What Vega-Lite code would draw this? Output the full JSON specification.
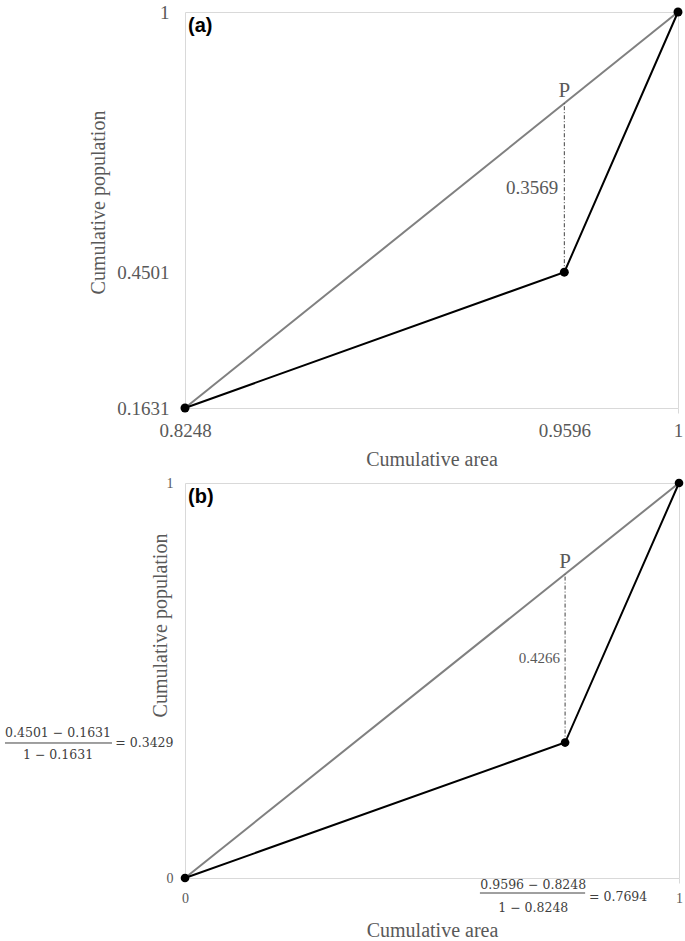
{
  "$schema": "https://vega.github.io/schema/vega-lite/v6.json",
  "background": "white",
  "padding": {"left": 3, "top": 2, "right": 4, "bottom": 2},
  "bounds": "flush",
  "spacing": 75,
  "config": {
    "view": {"stroke": "#d9d9d9", "strokeWidth": 1},
    "axis": {
      "domain": false,
      "grid": false,
      "labelColor": "#595959",
      "titleColor": "#595959",
      "labelFont": "Liberation Serif",
      "titleFont": "Liberation Serif",
      "titleFontWeight": "normal",
      "labelFlush": false,
      "labelOverlap": false,
      "labelBound": false
    }
  },
  "datasets": {
    "curveA": [{"x": 0.8248, "y": 0.1631}, {"x": 0.9596, "y": 0.4501}, {"x": 1, "y": 1}],
    "diagA": [{"x": 0.8248, "y": 0.1631}, {"x": 1, "y": 1}],
    "dropA": [{"x": 0.9596, "y": 0.4501}, {"x": 0.9596, "y": 0.807}],
    "pA": [{"x": 0.9596, "y": 0.807, "text": "P"}],
    "gapA": [{"x": 0.9596, "y": 0.62855, "text": "0.3569"}],
    "tagA": [{"x": 0.8248, "y": 1, "text": "(a)"}],
    "curveB": [{"x": 0, "y": 0}, {"x": 0.7694, "y": 0.3429}, {"x": 1, "y": 1}],
    "diagB": [{"x": 0, "y": 0}, {"x": 1, "y": 1}],
    "dropB": [{"x": 0.7694, "y": 0.3429}, {"x": 0.7694, "y": 0.7694}],
    "pB": [{"x": 0.7694, "y": 0.7694, "text": "P"}],
    "gapB": [{"x": 0.7694, "y": 0.55615, "text": "0.4266"}],
    "tagB": [{"x": 0, "y": 1, "text": "(b)"}],
    "fracB": [
      {"x": -0.257, "y": 0.367, "text": "0.4501 − 0.1631"},
      {"x": -0.257, "y": 0.311, "text": "1 − 0.1631"},
      {"x": 0.705, "y": -0.0177, "text": "0.9596 − 0.8248"},
      {"x": 0.705, "y": -0.076, "text": "1 − 0.8248"}
    ],
    "eqB": [{"x": 0.818, "y": -0.048, "text": "= 0.7694"}],
    "barsB": [
      {"x": -0.3644, "x2": -0.1478, "y": 0.3418},
      {"x": 0.597, "x2": 0.81, "y": -0.038}
    ]
  },
  "vconcat": [
    {
      "width": 493,
      "height": 396,
      "encoding": {
        "x": {
          "field": "x",
          "type": "quantitative",
          "scale": {"domain": [0.8248, 1], "nice": false, "zero": false},
          "title": "Cumulative area",
          "axis": {
            "values": [0.8248, 0.9596, 1],
            "labelExpr": "datum.value == 1 ? '1' : format(datum.value, '.4f')",
            "labelFontSize": 19,
            "labelPadding": 8,
            "titleFontSize": 20,
            "titlePadding": 9,
            "ticks": true,
            "tickSize": 5,
            "tickColor": "#d9d9d9",
            "tickOpacity": {"condition": {"test": "datum.value == 1", "value": 1}, "value": 0}
          }
        },
        "y": {
          "field": "y",
          "type": "quantitative",
          "scale": {"domain": [0.1631, 1], "nice": false, "zero": false},
          "title": "Cumulative population",
          "axis": {
            "values": [0.1631, 0.4501, 1],
            "labelExpr": "datum.value == 1 ? '1' : format(datum.value, '.4f')",
            "labelFontSize": 19,
            "labelPadding": 16,
            "ticks": false,
            "titleFontSize": 20,
            "titleX": -77,
            "titleY": 190
          }
        }
      },
      "layer": [
        {"data": {"name": "diagA"}, "mark": {"type": "line", "color": "#808080", "strokeWidth": 2}},
        {"data": {"name": "curveA"}, "mark": {"type": "line", "color": "#000000", "strokeWidth": 2}},
        {"data": {"name": "dropA"}, "mark": {"type": "line", "color": "#404040", "strokeWidth": 1, "strokeDash": [4, 2, 1, 2]}},
        {"data": {"name": "curveA"}, "mark": {"type": "point", "filled": true, "color": "#000000", "size": 80, "opacity": 1}},
        {"data": {"name": "pA"}, "mark": {"type": "text", "align": "center", "baseline": "bottom", "dy": -2, "font": "Liberation Serif", "fontSize": 21, "color": "#595959"}, "encoding": {"text": {"field": "text"}}},
        {"data": {"name": "gapA"}, "mark": {"type": "text", "align": "right", "baseline": "middle", "dx": -6, "font": "Liberation Serif", "fontSize": 19, "color": "#595959"}, "encoding": {"text": {"field": "text"}}},
        {"data": {"name": "tagA"}, "mark": {"type": "text", "align": "left", "baseline": "top", "dx": 3, "dy": 4, "font": "Liberation Sans", "fontWeight": "bold", "fontSize": 20, "color": "#000000"}, "encoding": {"text": {"field": "text"}}}
      ]
    },
    {
      "width": 494,
      "height": 395,
      "encoding": {
        "x": {
          "field": "x",
          "type": "quantitative",
          "scale": {"domain": [0, 1], "nice": false, "zero": false},
          "title": "Cumulative area",
          "axis": {
            "values": [0, 1],
            "labelExpr": "datum.value == 1 ? '1' : '0'",
            "labelFontSize": 14,
            "labelPadding": 8,
            "titleFontSize": 20,
            "titleY": 42,
            "ticks": true,
            "tickSize": 5,
            "tickColor": "#d9d9d9",
            "tickOpacity": {"condition": {"test": "datum.value == 1", "value": 1}, "value": 0}
          }
        },
        "y": {
          "field": "y",
          "type": "quantitative",
          "scale": {"domain": [0, 1], "nice": false, "zero": false},
          "title": "Cumulative population",
          "axis": {
            "values": [0, 0.3429, 1],
            "labelExpr": "datum.value == 1 ? '1' : (datum.value == 0 ? '0' : '= 0.3429')",
            "labelFont": {"condition": {"test": "datum.value > 0.1 && datum.value < 0.9", "value": "DejaVu Serif"}, "value": "Liberation Serif"},
            "labelFontSize": {"condition": {"test": "datum.value > 0.1 && datum.value < 0.9", "value": 12.5}, "value": 14},
            "labelColor": {"condition": {"test": "datum.value > 0.1 && datum.value < 0.9", "value": "#404040"}, "value": "#595959"},
            "labelPadding": 12,
            "ticks": false,
            "titleFontSize": 20,
            "titleX": -15,
            "titleY": 142
          }
        }
      },
      "layer": [
        {"data": {"name": "diagB"}, "mark": {"type": "line", "color": "#808080", "strokeWidth": 2}},
        {"data": {"name": "curveB"}, "mark": {"type": "line", "color": "#000000", "strokeWidth": 2}},
        {"data": {"name": "dropB"}, "mark": {"type": "line", "color": "#404040", "strokeWidth": 1, "strokeDash": [4, 2, 1, 2]}},
        {"data": {"name": "curveB"}, "mark": {"type": "point", "filled": true, "color": "#000000", "size": 75, "opacity": 1}},
        {"data": {"name": "pB"}, "mark": {"type": "text", "align": "center", "baseline": "bottom", "dy": -2, "font": "Liberation Serif", "fontSize": 21, "color": "#595959"}, "encoding": {"text": {"field": "text"}}},
        {"data": {"name": "gapB"}, "mark": {"type": "text", "align": "right", "baseline": "middle", "dx": -5, "font": "Liberation Serif", "fontSize": 15, "color": "#595959"}, "encoding": {"text": {"field": "text"}}},
        {"data": {"name": "tagB"}, "mark": {"type": "text", "align": "left", "baseline": "top", "dx": 3, "dy": 4, "font": "Liberation Sans", "fontWeight": "bold", "fontSize": 20, "color": "#000000"}, "encoding": {"text": {"field": "text"}}},
        {"data": {"name": "fracB"}, "mark": {"type": "text", "align": "center", "baseline": "middle", "font": "DejaVu Serif", "fontSize": 12.5, "color": "#404040"}, "encoding": {"text": {"field": "text"}}},
        {"data": {"name": "eqB"}, "mark": {"type": "text", "align": "left", "baseline": "middle", "font": "DejaVu Serif", "fontSize": 12.5, "color": "#404040"}, "encoding": {"text": {"field": "text"}}},
        {"data": {"name": "barsB"}, "mark": {"type": "rule", "color": "#404040", "strokeWidth": 1}, "encoding": {"x2": {"field": "x2"}}}
      ]
    }
  ]
}
